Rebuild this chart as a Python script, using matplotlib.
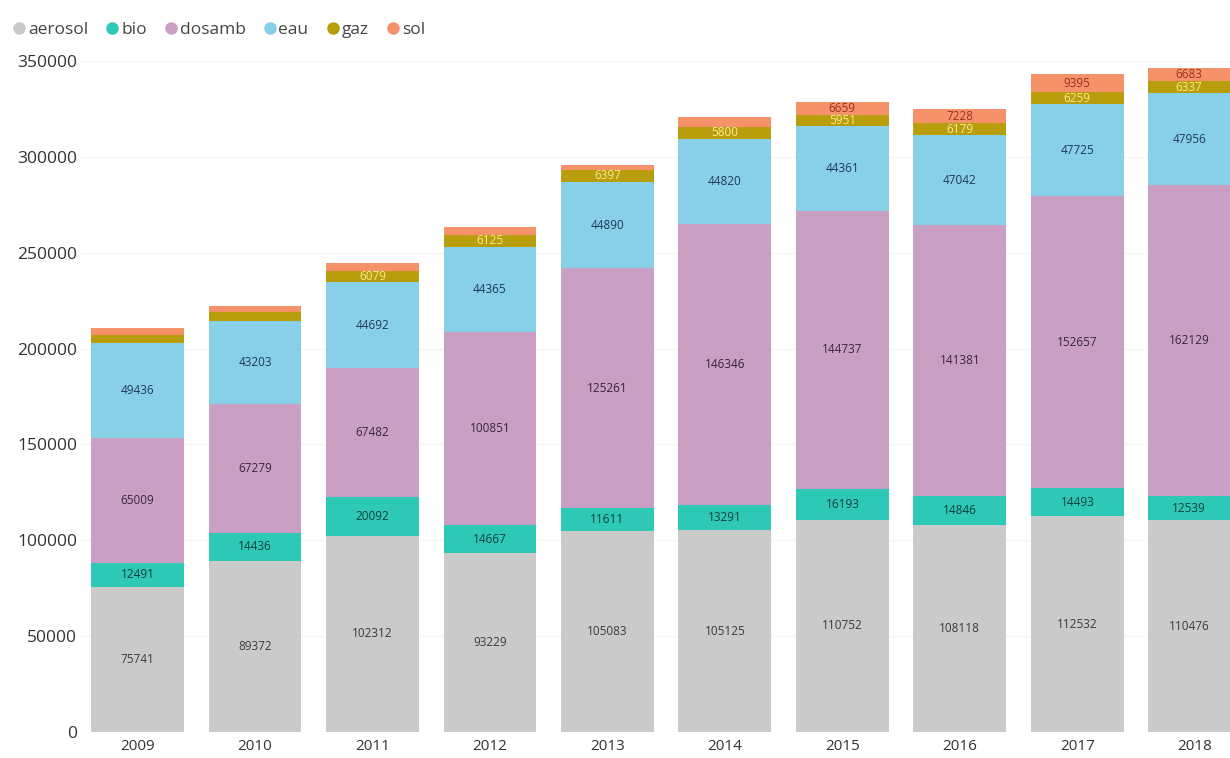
import matplotlib.pyplot as plt
import numpy as np
from matplotlib.lines import Line2D

plt.rcParams['font.family'] = ['Open Sans', 'DejaVu Sans']

years = ["2009", "2010", "2011", "2012", "2013", "2014", "2015", "2016", "2017", "2018"]

aerosol = [75741, 89372, 102312, 93229, 105083, 105125, 110752, 108118, 112532, 110476]
bio = [12491, 14436, 20092, 14667, 11611, 13291, 16193, 14846, 14493, 12539]
dosamb = [65009, 67279, 67482, 100851, 125261, 146346, 144737, 141381, 152657, 162129]
eau = [49436, 43203, 44692, 44365, 44890, 44820, 44361, 47042, 47725, 47956]
gaz = [4400, 5000, 6079, 6125, 6397, 5800, 5951, 6179, 6259, 6337]
sol = [3600, 3100, 3800, 4000, 2600, 5500, 6659, 7228, 9395, 6683]

series = ["aerosol", "bio", "dosamb", "eau", "gaz", "sol"]
values = [aerosol, bio, dosamb, eau, gaz, sol]
colors = ["#cacaca", "#2ec8b6", "#c9a0c3", "#88cfe8", "#b89e0c", "#f6926a"]
label_colors = ["#3a3a3a", "#0d3f3a", "#3a2437", "#1d3a55", "#f8eb94", "#9c2f22"]
# first year index where the label is drawn (small segments get no label)
label_from = [0, 0, 0, 0, 2, 6]

fig = plt.figure(figsize=(12.3, 7.58), dpi=100)
ax = fig.add_axes([0.066, 0.0343, 0.934, 0.8852])

x = np.arange(len(years))
bottom = np.zeros(len(years))
for name, vals, col, lcol, start in zip(series, values, colors, label_colors, label_from):
    vals = np.array(vals, dtype=float)
    bars = ax.bar(x, vals, 0.79, bottom=bottom, color=col, label=name, zorder=2)
    labels = [str(int(v)) if i >= start else "" for i, v in enumerate(vals)]
    ax.bar_label(bars, labels=labels, label_type='center', fontsize=8.5,
                 color=lcol, zorder=3)
    bottom += vals

ax.set_xlim(-0.48, 9.30)
ax.set_ylim(0, 350000)
ax.set_yticks(np.arange(0, 350001, 50000))
ax.set_xticks(x)
ax.set_xticklabels(years)
ax.tick_params(axis='both', length=0, colors="#333333")
ax.tick_params(axis='y', pad=3, labelsize=12.5)
ax.tick_params(axis='x', pad=5, labelsize=11)
ax.grid(axis='y', color="#ececec", linewidth=1, linestyle=(0, (1, 1)), zorder=0)
for s in ax.spines.values():
    s.set_visible(False)

handles = [Line2D([], [], marker='o', linestyle='', color=c, markersize=8)
           for c in colors]
fig.legend(handles, series, loc='upper left', bbox_to_anchor=(0.0, 0.985), ncol=6,
           frameon=False, fontsize=12.5, handletextpad=0.0, columnspacing=0.9,
           handlelength=1.0, borderaxespad=0.2, labelcolor="#444444")

fig.savefig("out.png", dpi=100)
